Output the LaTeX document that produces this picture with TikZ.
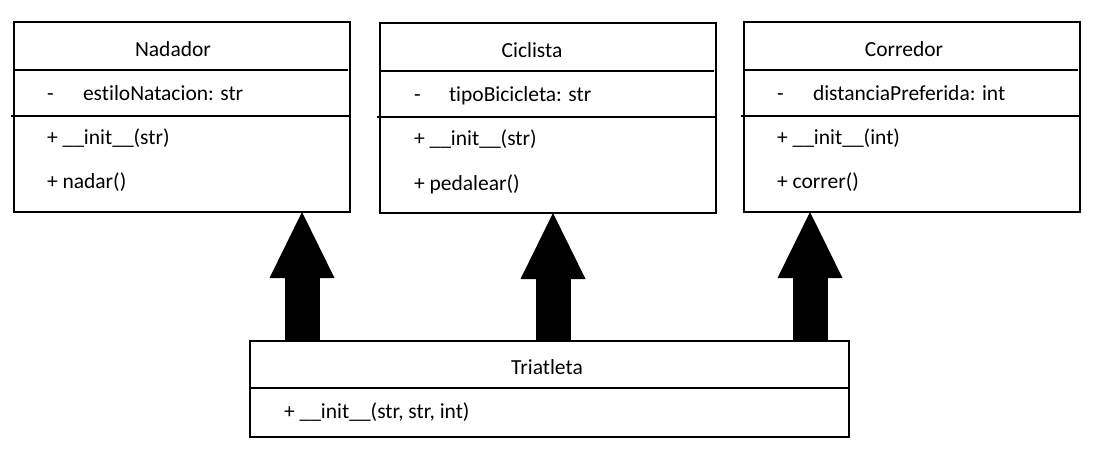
\documentclass[tikz,border=0pt]{standalone}
\usepackage{fontspec}
\setmainfont{Carlito}[Ligatures={NoCommon}]
\usetikzlibrary{arrows.meta}
\begin{document}
\begin{tikzpicture}[x=1pt,y=-1pt,
  box/.style={draw=black, line width=2pt, rectangle, inner sep=0pt, outer sep=0pt, fill=white},
  sep/.style={draw=black, line width=1.2pt},
  txt/.style={inner sep=0pt, outer sep=0pt, anchor=base west, font=\fontsize{21.5}{26}\selectfont},
  ttl/.style={inner sep=0pt, outer sep=0pt, anchor=base, font=\fontsize{21.5}{26}\selectfont},
  inh/.style={draw=black, line width=35pt, -{Triangle[width=65pt,length=66pt,line width=0pt]}}
]
\useasboundingbox (0,0) rectangle (1094,465);

% class boxes
\node[box, minimum width=336pt, minimum height=190pt] (nad) at (182,117) {};
\node[box, minimum width=336pt, minimum height=190pt] (cic) at (548,118) {};
\node[box, minimum width=336pt, minimum height=190pt] (cor) at (912,117) {};
\node[box, minimum width=599pt, minimum height=96pt] (tri) at (549.5,389) {};

% compartment lines
\draw[sep] (14,70) -- (348,70);
\draw[sep] (11,116) -- (350,116);
\draw[sep] (380,71) -- (714,71);
\draw[sep] (377,117) -- (716,117);
\draw[sep] (744,70) -- (1078,70);
\draw[sep] (741,116) -- (1080,116);
\draw[sep] (250,388) -- (848,388);

% Nadador
\node[ttl] (nadT) at (173,57) {Nadador};
\node[txt] (nadA0) at (47,101) {-};
\node[txt] (nadA) at (83,101) {estiloNatacion: str};
\node[txt] (nadM1) at (47,145) {+ \_\_init\_\_(str)};
\node[txt] (nadM2) at (47,189) {+ nadar()};

% Ciclista
\node[ttl] (cicT) at (532,58) {Ciclista};
\node[txt] (cicA0) at (414,102) {-};
\node[txt] (cicA) at (449,102) {tipoBicicleta: str};
\node[txt] (cicM1) at (414,146) {+ \_\_init\_\_(str)};
\node[txt] (cicM2) at (414,190) {+ pedalear()};

% Corredor
\node[ttl] (corT) at (904,57) {Corredor};
\node[txt] (corA0) at (777,101) {-};
\node[txt] (corA) at (813,101) {distanciaPreferida: int};
\node[txt] (corM1) at (777,145) {+ \_\_init\_\_(int)};
\node[txt] (corM2) at (777,189) {+ correr()};

% Triatleta
\node[ttl] (triT) at (547,374) {Triatleta};
\node[txt] (triM1) at (284,418) {+ \_\_init\_\_(str, str, int)};

% inheritance arrows
\coordinate (x1) at (302,0);
\coordinate (x2) at (553,0);
\coordinate (x3) at (810,0);
\draw[inh] (tri.north -| x1) -- (nad.south -| x1);
\draw[inh] (tri.north -| x2) -- (cic.south -| x2);
\draw[inh] (tri.north -| x3) -- (cor.south -| x3);
\end{tikzpicture}
\end{document}
